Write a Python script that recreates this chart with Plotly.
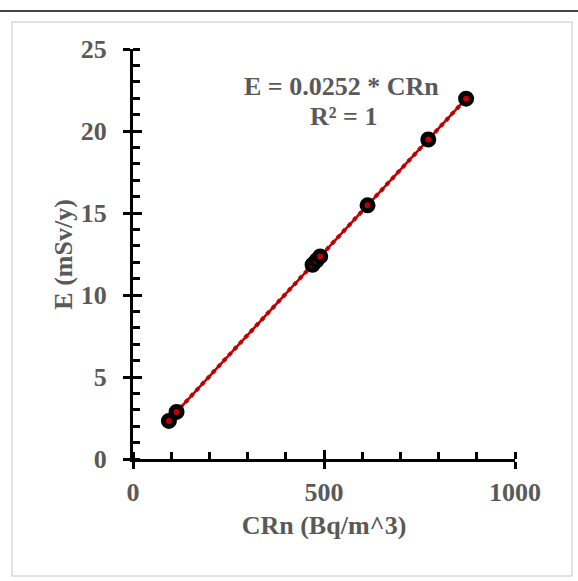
import plotly.graph_objects as go

# Data
crn = [94, 114, 470, 480, 490, 614, 773, 872]
e_dose = [2.32, 2.87, 11.84, 12.10, 12.35, 15.47, 19.48, 21.97]
trend_x = [94, 872]
trend_y = [2.37, 21.97]
eq_text = "E = 0.0252 * CRn"
r2_text = "R² = 1"
x_title = "CRn (Bq/m^3)"
y_title = "E (mSv/y)"

FONT = "Liberation Serif"
GRAY = "#595959"
RED = "#C00000"

fig = go.Figure()
fig.add_trace(go.Scatter(x=trend_x, y=trend_y, mode="lines",
                         line=dict(color=RED, width=2.5), hoverinfo="skip", showlegend=False))
fig.add_trace(go.Scatter(x=trend_x, y=trend_y, mode="lines",
                         line=dict(color=RED, width=4, dash="dot"), hoverinfo="skip", showlegend=False))
fig.add_trace(go.Scatter(x=crn, y=e_dose, mode="markers",
                         marker=dict(symbol="circle", size=11, color=RED,
                                     line=dict(color="black", width=5)),
                         showlegend=False))
# dummy trace for overlay axes (inner major ticks)
fig.add_trace(go.Scatter(x=[None], y=[None], xaxis="x2", yaxis="y2", showlegend=False, hoverinfo="skip"))

tickfont = dict(family=FONT, size=26, color=GRAY, weight="bold")
titlefont = dict(family=FONT, size=26, color=GRAY, weight="bold")

fig.update_layout(
    width=578, height=581,
    margin=dict(l=133, r=63, t=49, b=122),
    paper_bgcolor="white", plot_bgcolor="white",
    xaxis=dict(range=[0, 1000], tickvals=[0, 500, 1000], showgrid=False, zeroline=False,
               showline=True, linecolor="black", linewidth=3,
               ticks="outside", ticklen=7, tickwidth=3, tickcolor="black",
               minor=dict(dtick=100, ticks="inside", ticklen=7, tickwidth=2.5, tickcolor="black"),
               tickfont=tickfont, ticklabelstandoff=1,
               title=dict(text=x_title, font=titlefont, standoff=10)),
    yaxis=dict(range=[0, 25], tickvals=[0, 5, 10, 15, 20, 25], showgrid=False, zeroline=False,
               showline=True, linecolor="black", linewidth=3,
               ticks="outside", ticklen=7, tickwidth=3, tickcolor="black",
               minor=dict(dtick=1, ticks="inside", ticklen=7, tickwidth=2.5, tickcolor="black"),
               tickfont=tickfont, ticklabelstandoff=11),
    xaxis2=dict(range=[0, 1000], overlaying="x", anchor="y", side="bottom",
                tickvals=[0, 500, 1000], ticks="inside", ticklen=9, tickwidth=3, tickcolor="black",
                showticklabels=False, showgrid=False, zeroline=False, showline=False),
    yaxis2=dict(range=[0, 25], overlaying="y", anchor="x", side="left",
                tickvals=[0, 5, 10, 15, 20, 25], ticks="inside", ticklen=9, tickwidth=3, tickcolor="black",
                showticklabels=False, showgrid=False, zeroline=False, showline=False),
    annotations=[
        dict(x=547, y=22.7, xref="x", yref="y", text=eq_text, showarrow=False,
             font=dict(family=FONT, size=26, color=GRAY, weight="bold")),
        dict(x=550, y=20.9, xref="x", yref="y", text=r2_text, showarrow=False,
             font=dict(family=FONT, size=26, color=GRAY, weight="bold")),
        dict(x=-0.184, y=0.5, xref="paper", yref="paper", text=y_title, showarrow=False,
             textangle=-90, xanchor="center", yanchor="middle", font=titlefont),
    ],
    shapes=[
        dict(type="rect", xref="paper", yref="paper", x0=-0.3168, x1=1.1492, y0=-0.2854, y1=1.0659,
             line=dict(color="#d9d9d9", width=1.5), fillcolor="rgba(0,0,0,0)", layer="below"),
        dict(type="line", xref="paper", yref="paper", x0=-0.36, x1=1.18, y0=1.0927, y1=1.0927,
             line=dict(color="#444444", width=2)),
    ],
)

fig.write_html("out.html")
